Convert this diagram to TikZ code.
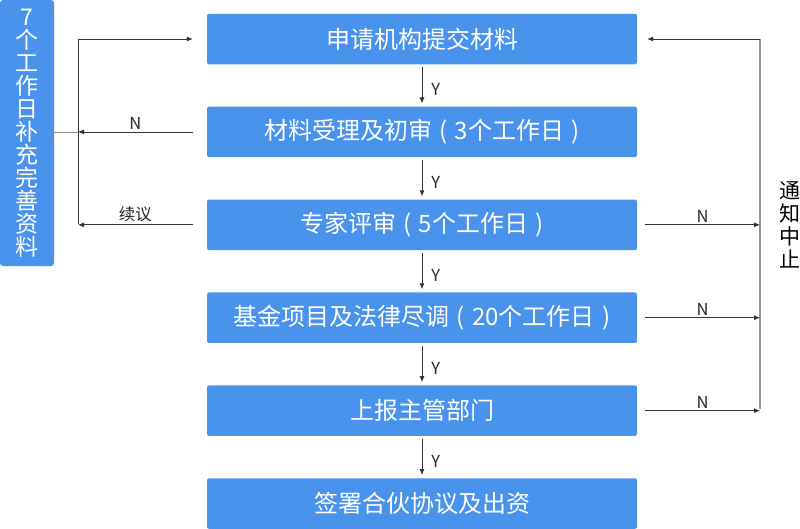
\documentclass[tikz,border=0pt]{standalone}
\usepackage{fontspec}
\setmainfont{Noto Sans CJK SC}
\usetikzlibrary{positioning,arrows.meta}
\definecolor{boxblue}{RGB}{74,147,236}
\definecolor{linegray}{RGB}{150,150,150}
\tikzstyle{stepbox} = [fill=boxblue, rounded corners=2pt, minimum width=430pt,
  minimum height=50.5pt, text=white, font=\fontsize{24}{28}\selectfont]
\tikzstyle{arr} = [draw=black!80, line width=0.8pt, -{Latex[length=6pt,width=5pt]}]
\tikzstyle{lbl} = [font=\fontsize{16.5}{18}\selectfont, text=black!85, inner sep=2pt]
\newcommand{\lp}{\hspace{0.3em}(\hspace{0.3em}}
\newcommand{\rp}{\hspace{0.3em})}

\begin{document}
\begin{tikzpicture}[x=1pt,y=-1pt]
  \useasboundingbox (0,0) rectangle (800,528);
  % main column
  \node [stepbox] (b1) at (422,39) {申请机构提交材料};
  \node [stepbox, below=42pt of b1] (b2) {材料受理及初审\lp 3个工作日\rp};
  \node [stepbox, below=42pt of b2] (b3) {专家评审\lp 5个工作日\rp};
  \node [stepbox, below=42pt of b3] (b4) {基金项目及法律尽调\lp 20个工作日\rp};
  \node [stepbox, below=42pt of b4] (b5) {上报主管部门};
  \node [stepbox, below=42pt of b5] (b6) {签署合伙协议及出资};
  % side labels
  \node [fill=boxblue, rounded corners=3pt, minimum width=54pt, minimum height=266pt,
    text=white, align=center, inner sep=0pt, font=\fontsize{23}{23}\selectfont]
    (supp) at (27,133) {7\\个\\工\\作\\日\\补\\充\\完\\善\\资\\料};
  \node [align=center, inner sep=0pt, font=\fontsize{21}{23}\selectfont]
    (stop) at (790,225) {通\\知\\中\\止};
  % return lines
  \coordinate (lt) at (78,39);
  \coordinate (lb) at (78,224);
  \coordinate (rt) at (760,39);
  \coordinate (rb) at (760,409);
  \draw [arr] (lb) -- (lt) -- ([xshift=-14pt]b1.west);
  \draw [arr] ([xshift=-14pt]b2.west) -- node [lbl, above] {N} (b2 -| lt);
  \draw [arr] ([xshift=-14pt]b3.west) -- node [lbl, above] {续议} (b3 -| lt);
  \draw [linegray, line width=0.8pt] (supp.east |- b2) -- (b2 -| lt);
  \draw [linegray, line width=1.2pt] (rb) -- (rt);
  \draw [arr] (rt) -- ([xshift=10pt]b1.east);
  \foreach \b in {b3,b4,b5}
    \draw [arr] ([xshift=8pt]\b.east) -- node [lbl, above] {N} (\b -| rt);
  % forward arrows
  \foreach \a/\b in {b1/b2,b2/b3,b3/b4,b4/b5,b5/b6}
    \draw [arr] ([yshift=-3pt]\a.south) -- node [lbl, right=7pt, yshift=-4pt] {Y} ([yshift=3pt]\b.north);
\end{tikzpicture}
\end{document}
